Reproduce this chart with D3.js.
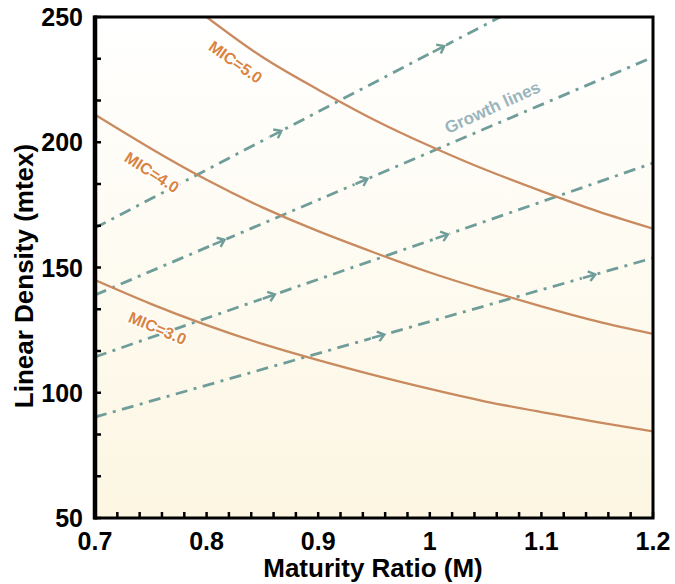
<!DOCTYPE html>
<html>
<head>
<meta charset="utf-8">
<script src="https://cdn.jsdelivr.net/npm/d3@7"></script>
<style>
body { margin: 0; background: #ffffff; }
svg { display: block; font-family: "Liberation Sans", Arial, sans-serif; }
</style>
</head>
<body>
<svg id="chart" width="675" height="584"></svg>
<script>
// maturity ratio sample points
var maturity = [0.7, 0.75, 0.8, 0.85, 0.9, 0.95, 1.0, 1.05, 1.1, 1.15, 1.2];

// linear density (mtex) along each MIC curve, null = above the chart
var mic5 = [null, null, 250, 234, 221, 209, 198.5, 189, 180.5, 172.5, 165.5];
var mic4 = [211, 197.5, 185, 174, 164.5, 156, 148, 141, 134.5, 128.5, 123.5];
var mic3 = [145, 135.5, 127, 119.5, 113, 107, 101.5, 96.5, 92.3, 88.3, 84.6];
var micNames = ["MIC=5.0", "MIC=4.0", "MIC=3.0"];

// growth lines: [start M, start LD, end M, end LD]
var growth = [
	[0.7, 165.8, 1.063, 250],
	[0.7, 139, 1.2, 234],
	[0.7, 114.3, 1.2, 191.7],
	[0.7, 90.3, 1.2, 153.8]
];
// where the arrows sit on each growth line (M)
var arrowsAt = [[0.863, 1.009], [0.812, 0.94], [0.857, 1.012], [0.955, 1.144]];

var xTicks = [0.7, 0.8, 0.9, 1, 1.1, 1.2];
var yTicks = [50, 100, 150, 200, 250];

var svg = d3.select("#chart");
var pLeft = 95, pRight = 653, pTop = 17, pBottom = 518;

var x = d3.scaleLinear().domain([0.7, 1.2]).range([pLeft, pRight]);
var y = d3.scaleLinear().domain([50, 250]).range([pBottom, pTop]);

var defs = svg.append("defs");
var grad = defs.append("linearGradient").attr("id", "bg")
	.attr("x1", 0).attr("y1", 0).attr("x2", 0).attr("y2", 1);
grad.append("stop").attr("offset", "0%").attr("stop-color", "#ffffff");
grad.append("stop").attr("offset", "100%").attr("stop-color", "#fcf6e2");
defs.append("clipPath").attr("id", "plot").append("rect")
	.attr("x", pLeft).attr("y", pTop).attr("width", pRight - pLeft).attr("height", pBottom - pTop);

svg.append("rect")
	.attr("x", pLeft).attr("y", pTop)
	.attr("width", pRight - pLeft).attr("height", pBottom - pTop)
	.attr("fill", "url(#bg)");

var g = svg.append("g").attr("clip-path", "url(#plot)");

// growth lines
g.selectAll(".growth").data(growth).enter().append("line")
	.attr("class", "growth")
	.attr("x1", function(d){ return x(d[0]); })
	.attr("y1", function(d){ return y(d[1]); })
	.attr("x2", function(d){ return x(d[2]); })
	.attr("y2", function(d){ return y(d[3]); })
	.attr("stroke", "#6f9d99")
	.attr("stroke-width", 2.8)
	.attr("stroke-dasharray", "12,6.5,3,6.5");

growth.forEach(function(d, i){
	var ang = Math.atan2(y(d[3]) - y(d[1]), x(d[2]) - x(d[0])) * 180 / Math.PI;
	arrowsAt[i].forEach(function(m){
		var t = (m - d[0]) / (d[2] - d[0]);
		var v = d[1] + t * (d[3] - d[1]);
		var a = g.append("g")
			.attr("transform", "translate(" + x(m) + "," + y(v) + ") rotate(" + ang + ")");
		a.append("rect").attr("x", -9).attr("y", -4).attr("width", 16).attr("height", 8)
			.attr("fill", "#fefcf5");
		a.append("line").attr("x1", -8).attr("y1", 0).attr("x2", 4).attr("y2", 0)
			.attr("stroke", "#6f9d99").attr("stroke-width", 2.6);
		a.append("path").attr("d", "M-1.5,-5 L5,0 L-1.5,5")
			.attr("fill", "none").attr("stroke", "#6f9d99").attr("stroke-width", 2.4);
	});
});

// MIC curves
var line = d3.line()
	.defined(function(d){ return d[1] != null; })
	.x(function(d){ return x(d[0]); })
	.y(function(d){ return y(d[1]); })
	.curve(d3.curveNatural);

[mic5, mic4, mic3].forEach(function(vals){
	var pts = maturity.map(function(m, i){ return [m, vals[i]]; });
	g.append("path").datum(pts)
		.attr("d", line)
		.attr("fill", "none")
		.attr("stroke", "#c88a5e")
		.attr("stroke-width", 2.3);
});

// curve labels
var labelPos = [[0.826, 232, 35], [0.751, 188, 33], [0.756, 125.8, 23]];
micNames.forEach(function(name, i){
	var p = labelPos[i];
	svg.append("text")
		.attr("transform", "translate(" + x(p[0]) + "," + y(p[1]) + ") rotate(" + p[2] + ")")
		.attr("text-anchor", "middle")
		.attr("dy", "0.35em")
		.attr("font-size", 16)
		.attr("font-weight", "bold")
		.attr("fill", "#d9843f")
		.attr("stroke", "#ffffff")
		.attr("stroke-width", 3)
		.attr("paint-order", "stroke")
		.text(name);
});

svg.append("text")
	.attr("transform", "translate(" + x(1.056) + "," + y(214) + ") rotate(-24.5)")
	.attr("text-anchor", "middle")
	.attr("dy", "0.35em")
	.attr("font-size", 17)
	.attr("font-weight", "bold")
	.attr("fill", "#9bb5bd")
	.text("Growth lines");

// ticks
var xMinor = d3.range(0.7, 1.2001, 0.02);
var yMinor = d3.range(50, 250.001, 50 / 3);
svg.selectAll(".xt").data(xMinor).enter().append("line")
	.attr("x1", function(d){ return x(d); }).attr("x2", function(d){ return x(d); })
	.attr("y1", pBottom).attr("y2", pBottom - 6)
	.attr("stroke", "#000").attr("stroke-width", 2.5);
svg.selectAll(".yt").data(yMinor).enter().append("line")
	.attr("y1", function(d){ return y(d); }).attr("y2", function(d){ return y(d); })
	.attr("x1", pLeft).attr("x2", pLeft + 6)
	.attr("stroke", "#000").attr("stroke-width", 2.5);

svg.append("rect")
	.attr("x", pLeft).attr("y", pTop)
	.attr("width", pRight - pLeft).attr("height", pBottom - pTop)
	.attr("fill", "none").attr("stroke", "#000").attr("stroke-width", 3);
svg.append("line")
	.attr("x1", pLeft).attr("x2", pLeft).attr("y1", pTop - 1.5).attr("y2", pBottom + 1.5)
	.attr("stroke", "#000").attr("stroke-width", 4.5);

svg.selectAll(".xl").data(xTicks).enter().append("text")
	.attr("x", function(d){ return x(d); })
	.attr("y", 550)
	.attr("text-anchor", "middle")
	.attr("font-size", 25).attr("font-weight", "bold")
	.text(function(d){ return d; });

svg.selectAll(".yl").data(yTicks).enter().append("text")
	.attr("x", 83)
	.attr("y", function(d){ return y(d); })
	.attr("dy", "0.36em")
	.attr("text-anchor", "end")
	.attr("font-size", 25).attr("font-weight", "bold")
	.text(function(d){ return d; });

svg.append("text")
	.attr("x", 373).attr("y", 577)
	.attr("text-anchor", "middle")
	.attr("font-size", 26).attr("font-weight", "bold")
	.text("Maturity Ratio (M)");

svg.append("text")
	.attr("transform", "translate(33,276) rotate(-90)")
	.attr("text-anchor", "middle")
	.attr("font-size", 26).attr("font-weight", "bold")
	.text("Linear Density (mtex)");
</script>
</body>
</html>
